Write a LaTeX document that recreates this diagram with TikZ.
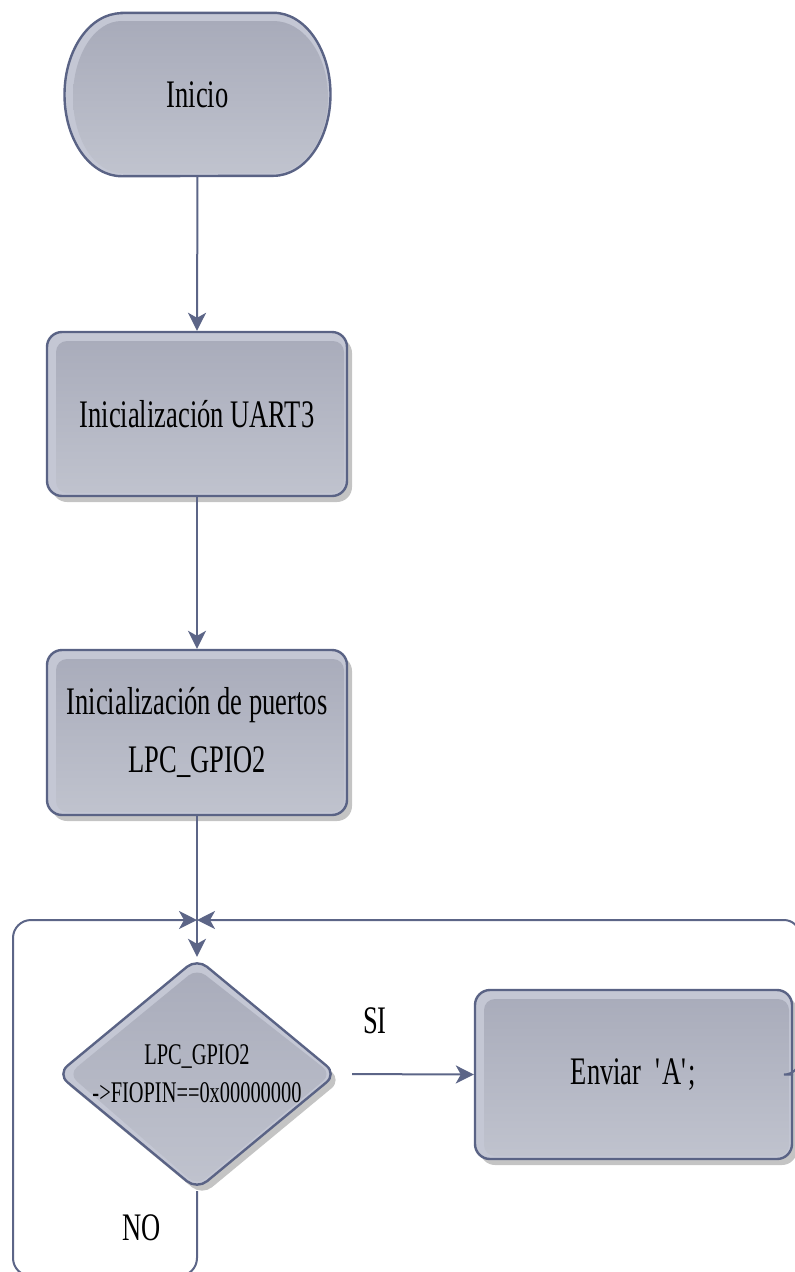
\documentclass[tikz,border=0pt]{standalone}
\usepackage{fontspec}
\setmainfont{Liberation Serif}[FakeStretch=0.68]
\usetikzlibrary{shapes.geometric,shadows,calc,arrows.meta,backgrounds}

\definecolor{edge}{RGB}{90,99,133}
\definecolor{linec}{RGB}{92,101,135}
\definecolor{bevel}{RGB}{196,199,212}
\definecolor{faceA}{RGB}{168,171,186}
\definecolor{faceB}{RGB}{192,195,206}
\definecolor{shadowgray}{RGB}{196,196,196}

\begin{document}
\begin{tikzpicture}[x=1pt,y=1pt,
  face/.style={top color=faceA, bottom color=faceB},
  bigtext/.style={font=\fontsize{39}{58}\selectfont},
  procbox/.style={rectangle, rounded corners=15pt, draw=edge, line width=2.4pt,
    fill=bevel, inner sep=0pt, align=center, bigtext,
    drop shadow={shadow xshift=5pt, shadow yshift=-6pt, fill=shadowgray, opacity=1},
    path picture={\shade[face, rounded corners=11pt]
      ($(path picture bounding box.north west)+(9pt,-9pt)$) rectangle
      ($(path picture bounding box.south east)+(-3pt,3pt)$);}},
  decision/.style={diamond, aspect=1.2, minimum width=280pt, minimum height=232pt,
    inner sep=0pt, rounded corners=13pt, draw=edge, line width=2.4pt, fill=bevel,
    drop shadow={shadow xshift=5pt, shadow yshift=-6pt, fill=shadowgray, opacity=1},
    path picture={\shade[face, rounded corners=11pt]
      ($(path picture bounding box.north)+(0pt,-10pt)$) --
      ($(path picture bounding box.east)+(-5pt,0pt)$) --
      ($(path picture bounding box.south)+(0pt,4pt)$) --
      ($(path picture bounding box.west)+(11pt,0pt)$) -- cycle;}},
  termbox/.style={rectangle, minimum width=266pt, minimum height=163pt,
    inner sep=0pt, bigtext},
  conn/.style={draw=linec, line width=2pt},
  flowarrow/.style={-{Stealth[length=18pt,width=18pt,inset=5pt]}},
  lbl/.style={bigtext, inner sep=0pt}
]
\clip (0,0) rectangle (795,-1272);

% start terminator
\node[termbox] (inicio) at (197.5,-94.5) {Inicio};
\begin{pgfonlayer}{background}
  \path[fill=shadowgray, shift={(5,-6)}]
    ([xshift=-76pt]inicio.north) -- ([xshift=76pt]inicio.north)
    arc[start angle=90, end angle=-90, x radius=57, y radius=81.5]
    -- ([xshift=-76pt]inicio.south)
    arc[start angle=270, end angle=90, x radius=57, y radius=81.5] -- cycle;
  \path[fill=bevel]
    ([xshift=-76pt]inicio.north) -- ([xshift=76pt]inicio.north)
    arc[start angle=90, end angle=-90, x radius=57, y radius=81.5]
    -- ([xshift=-76pt]inicio.south)
    arc[start angle=270, end angle=90, x radius=57, y radius=81.5] -- cycle;
  \shade[face]
    ($(inicio.center)+(-76,73.5)$) -- ($(inicio.center)+(76,73.5)$)
    arc[start angle=90, end angle=-90, x radius=54.5, y radius=76]
    -- ($(inicio.center)+(-76,-78.5)$)
    arc[start angle=270, end angle=90, x radius=48.5, y radius=76] -- cycle;
  \draw[draw=edge, line width=2.4pt]
    ([xshift=-76pt]inicio.north) -- ([xshift=76pt]inicio.north)
    arc[start angle=90, end angle=-90, x radius=57, y radius=81.5]
    -- ([xshift=-76pt]inicio.south)
    arc[start angle=270, end angle=90, x radius=57, y radius=81.5] -- cycle;
\end{pgfonlayer}

% process steps
\node[procbox, minimum width=300pt, minimum height=164pt] (uart) at (197,-414)
  {Inicialización UART3};
\node[procbox, minimum width=300pt, minimum height=165pt] (gpio) at (197,-732.5)
  {Inicialización de puertos\\LPC\_GPIO2};
\node[decision,
  label={[font=\fontsize{30}{38}\selectfont, align=center]center:{LPC\_GPIO2\\->FIOPIN==0x00000000}}]
  (dec) at (197,-1074) {};
\node[procbox, minimum width=317pt, minimum height=169pt] (enviar) at (633.5,-1074.5)
  {Enviar\hspace{14pt}\textquotesingle A\textquotesingle;};

% branch labels
\node[lbl] (si) at (375,-1021) {SI};
\node[lbl] (no) at (142,-1228) {NO};

% loop points
\coordinate (J) at (197,-920);
\coordinate (nobottom) at (13,-1276);
\coordinate (backright) at (800,-920);

% connectors
\draw[conn, flowarrow] (inicio.south) -- (uart.north);
\draw[conn, flowarrow] (uart.south) -- (gpio.north);
\draw[conn] (gpio.south) -- (J);
\draw[conn, flowarrow] (J) -- (dec.north);
\draw[conn, flowarrow, shorten <=14pt] (dec.east) -- (enviar.west);
\draw[conn, flowarrow, rounded corners=18pt] (dec.south) |- (nobottom) |- (J);
\draw[conn, flowarrow, rounded corners=16pt] (enviar.east) -| (backright) -- (J);
\end{tikzpicture}
\end{document}
